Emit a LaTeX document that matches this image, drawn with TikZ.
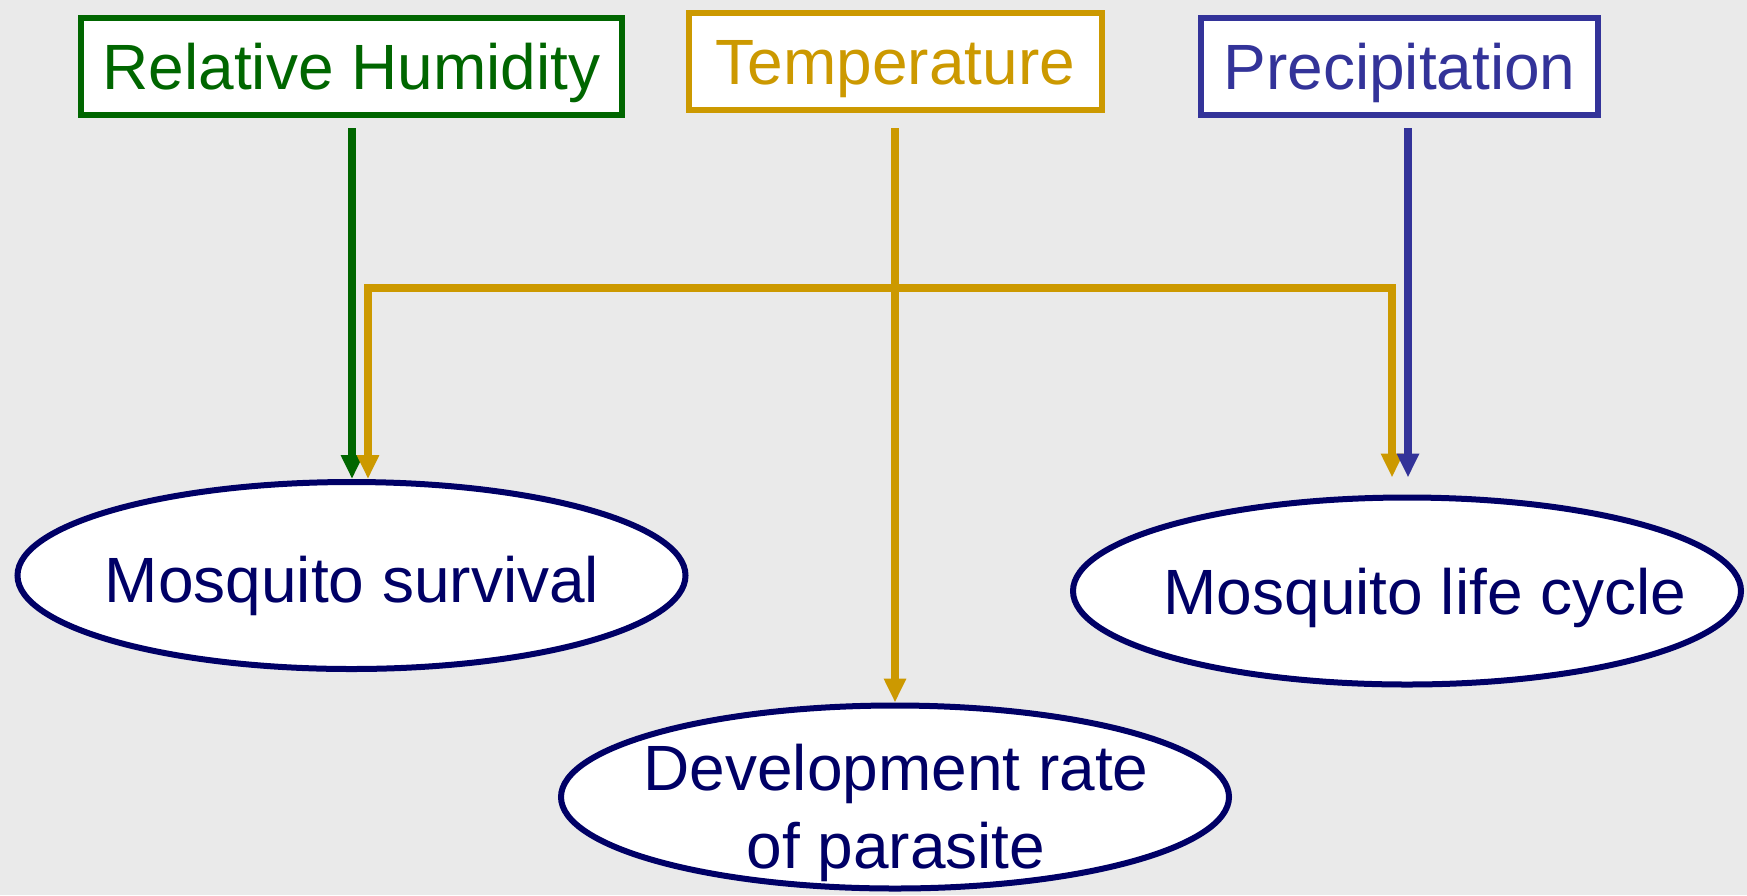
\documentclass[tikz,border=0pt]{standalone}
\usepackage{fontspec}
\setmainfont{Liberation Sans}
\usetikzlibrary{shapes.geometric,arrows.meta}
\definecolor{bg}{HTML}{EAEAEA}
\definecolor{rhgreen}{HTML}{006600}
\definecolor{tgold}{HTML}{CC9900}
\definecolor{pblue}{HTML}{333399}
\definecolor{navy}{HTML}{000066}
\begin{document}
\begin{tikzpicture}[x=1pt,y=-1pt,
  factor/.style={rectangle,draw=#1,text=#1,fill=white,line width=6pt,minimum height=97pt,inner sep=0pt,font=\fontsize{64}{78}\selectfont,text height=46pt,text depth=0pt},
  effect/.style={ellipse,draw=navy,fill=white,line width=6pt,minimum width=668pt,minimum height=187pt,inner sep=0pt},
  efftext/.style={text=navy,font=\fontsize{64}{78}\selectfont,align=center,inner sep=0pt},
  link/.style={draw=#1,line width=7.5pt,-{Triangle[width=21pt,length=24pt]}}
]
\fill[bg] (0,0) rectangle (1747,895);
\useasboundingbox (0,0) rectangle (1747,895);

% factor boxes
\node[factor=rhgreen,minimum width=541pt] (rh) at (351.5,66) {Relative Humidity};
\node[factor=tgold,minimum width=413pt] (temp) at (895.5,61) {Temperature};
\node[factor=pblue,minimum width=397pt] (prec) at (1399.5,66) {Precipitation};

% effect ellipses
\node[effect] (ms) at (351.5,575.5) {};
\node[effect,minimum height=183pt] (dr) at (895,797) {};
\node[effect] (lc) at (1407,591) {};

\node[efftext,text height=46pt,text depth=0pt] (mst) at (352,579) {Mosquito survival};
\node[efftext,text height=46pt,text depth=0pt] (lct) at (1425,591) {Mosquito life cycle};
\node[efftext] (drt) at (896,813) {Development rate\\of parasite};

% connectors
\coordinate (rhs) at (352,128);
\coordinate (ts) at (895,128);
\coordinate (tj) at (895,288);
\coordinate (ps) at (1408,128);
\coordinate (msin) at (368,0);
\coordinate (lcin) at (1392,0);

\draw[link=rhgreen] (rhs) -- (rhs |- ms.north);
\draw[link=tgold] (ts) -- (ts |- dr.north);
\draw[link=tgold] (tj) -| (msin |- ms.north);
\draw[link=tgold,shorten >=17pt] (tj) -| (lcin |- lc.north);
\draw[link=pblue,shorten >=17pt] (ps) -- (ps |- lc.north);
\end{tikzpicture}
\end{document}
